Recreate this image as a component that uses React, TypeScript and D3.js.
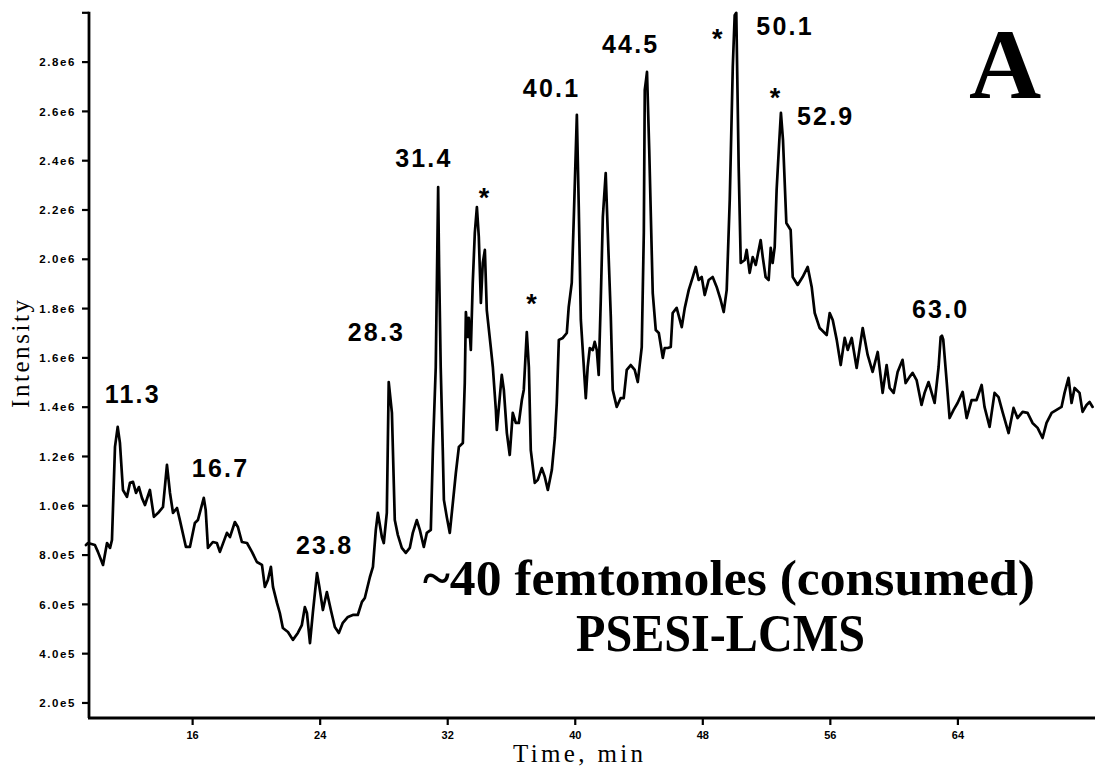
import React from "react";
import * as d3 from "d3";

// Retention time (min) of each sampled point of the total ion chromatogram
const time = [
  9.31, 9.44, 9.87, 10.06, 10.38, 10.63, 10.82, 10.94, 11.13, 11.3,
  11.44, 11.63, 11.88, 12.07, 12.26, 12.45, 12.63, 12.82, 13.01, 13.32,
  13.57, 13.89, 14.14, 14.39, 14.58, 14.77, 15.02, 15.2, 15.58, 15.83,
  16.14, 16.33, 16.7, 16.82, 16.96, 17.27, 17.52, 17.71, 18.15, 18.34,
  18.65, 18.84, 19.09, 19.41, 19.72, 20.03, 20.35, 20.53, 20.72, 20.91,
  21.04, 21.29, 21.47, 21.66, 21.98, 22.29, 22.6, 22.85, 23.04, 23.17,
  23.36, 23.54, 23.8, 23.95, 24.17, 24.42, 24.67, 24.92, 25.17, 25.42,
  25.74, 26.05, 26.36, 26.62, 26.8, 27.12, 27.31, 27.49, 27.62, 27.87,
  27.99, 28.18, 28.3, 28.5, 28.68, 28.87, 29.12, 29.37, 29.62, 29.81,
  30.06, 30.25, 30.5, 30.69, 30.94, 31.07, 31.25, 31.4, 31.46, 31.56,
  31.69, 31.76, 31.94, 32.13, 32.32, 32.51, 32.7, 32.95, 33.07, 33.14,
  33.26, 33.32, 33.45, 33.57, 33.7, 33.83, 33.95, 34.08, 34.2, 34.33,
  34.45, 34.7, 34.83, 35.02, 35.08, 35.39, 35.52, 35.71, 35.89, 36.08,
  36.27, 36.46, 36.65, 36.77, 36.96, 37.09, 37.21, 37.46, 37.65, 37.9,
  38.09, 38.28, 38.53, 38.72, 38.84, 38.97, 39.22, 39.47, 39.59, 39.78,
  39.91, 40.1, 40.22, 40.35, 40.47, 40.66, 40.78, 40.91, 41.1, 41.22,
  41.35, 41.47, 41.6, 41.73, 41.91, 42.04, 42.23, 42.35, 42.6, 42.85,
  43.04, 43.23, 43.48, 43.73, 43.92, 44.17, 44.3, 44.36, 44.44, 44.5,
  44.64, 44.86, 45.05, 45.24, 45.49, 45.61, 45.8, 45.99, 46.11, 46.36,
  46.68, 46.87, 47.12, 47.37, 47.56, 47.74, 47.93, 48.12, 48.37, 48.62,
  48.87, 49.12, 49.31, 49.5, 49.69, 49.88, 50.0, 50.1, 50.25, 50.38,
  50.63, 50.75, 50.94, 51.13, 51.32, 51.63, 51.76, 51.94, 52.13, 52.26,
  52.38, 52.51, 52.63, 52.8, 52.9, 53.03, 53.24, 53.51, 53.64, 53.95,
  54.26, 54.58, 54.83, 55.02, 55.33, 55.77, 55.96, 56.15, 56.4, 56.65,
  56.9, 57.09, 57.34, 57.65, 58.03, 58.34, 58.65, 58.97, 59.28, 59.53,
  59.72, 59.97, 60.22, 60.53, 60.72, 60.97, 61.16, 61.41, 61.72, 61.91,
  62.16, 62.54, 62.79, 62.92, 63.0, 63.08, 63.29, 63.48, 63.73, 63.98,
  64.3, 64.55, 64.86, 65.17, 65.49, 65.67, 65.99, 66.3, 66.55, 66.8,
  67.18, 67.49, 67.74, 68.06, 68.37, 68.68, 69.0, 69.31, 69.56, 69.88,
  70.19, 70.5, 70.69, 70.94, 71.13, 71.32, 71.63, 71.82, 72.07, 72.26,
  72.45,
];

// Ion intensity at each time point, in millions of counts
const intensity = [
  0.841, 0.849, 0.841, 0.813, 0.76, 0.849, 0.829, 0.861, 1.239, 1.32,
  1.255, 1.064, 1.036, 1.093, 1.097, 1.052, 1.076, 1.032, 1.003, 1.064,
  0.955, 0.975, 0.995, 1.166, 1.052, 0.971, 0.991, 0.942, 0.833, 0.833,
  0.93, 0.942, 1.032, 0.983, 0.829, 0.853, 0.849, 0.813, 0.89, 0.873,
  0.934, 0.914, 0.853, 0.849, 0.813, 0.772, 0.76, 0.671, 0.699, 0.752,
  0.671, 0.606, 0.565, 0.504, 0.488, 0.456, 0.484, 0.516, 0.589, 0.565,
  0.443, 0.565, 0.727, 0.671, 0.577, 0.65, 0.577, 0.508, 0.484, 0.525,
  0.549, 0.557, 0.557, 0.61, 0.626, 0.711, 0.752, 0.902, 0.971, 0.873,
  0.849, 0.971, 1.502, 1.377, 0.942, 0.882, 0.829, 0.809, 0.829, 0.89,
  0.942, 0.902, 0.833, 0.89, 0.902, 1.226, 1.563, 2.293, 1.969, 1.563,
  1.226, 1.024, 0.955, 0.89, 1.011, 1.133, 1.239, 1.255, 1.498, 1.786,
  1.685, 1.762, 1.632, 1.904, 2.107, 2.212, 2.091, 1.823, 1.985, 2.038,
  1.794, 1.644, 1.563, 1.389, 1.308, 1.531, 1.47, 1.295, 1.206, 1.377,
  1.336, 1.336, 1.429, 1.47, 1.705, 1.563, 1.226, 1.093, 1.105, 1.153,
  1.117, 1.064, 1.145, 1.275, 1.417, 1.673, 1.681, 1.701, 1.807, 1.904,
  2.172, 2.586, 2.212, 1.754, 1.632, 1.437, 1.563, 1.64, 1.632, 1.665,
  1.632, 1.531, 1.835, 2.172, 2.35, 2.107, 1.766, 1.47, 1.401, 1.437,
  1.437, 1.551, 1.571, 1.551, 1.502, 1.644, 2.107, 2.687, 2.728, 2.76,
  2.444, 1.863, 1.713, 1.701, 1.6, 1.64, 1.64, 1.644, 1.782, 1.803,
  1.725, 1.803, 1.876, 1.928, 1.969, 1.916, 1.928, 1.855, 1.916, 1.928,
  1.888, 1.835, 1.786, 1.876, 2.241, 2.78, 2.99, 3.0, 2.375, 1.985,
  1.997, 2.038, 1.945, 2.009, 1.977, 2.078, 2.009, 1.928, 1.916, 2.046,
  1.985, 2.05, 2.281, 2.484, 2.594, 2.484, 2.147, 2.119, 1.928, 1.896,
  1.928, 1.969, 1.888, 1.782, 1.721, 1.693, 1.782, 1.754, 1.673, 1.571,
  1.681, 1.632, 1.681, 1.559, 1.721, 1.612, 1.543, 1.624, 1.458, 1.571,
  1.478, 1.458, 1.543, 1.592, 1.498, 1.523, 1.539, 1.51, 1.409, 1.458,
  1.502, 1.417, 1.563, 1.685, 1.69, 1.675, 1.51, 1.356, 1.389, 1.417,
  1.462, 1.356, 1.429, 1.429, 1.49, 1.401, 1.32, 1.458, 1.441, 1.381,
  1.295, 1.397, 1.356, 1.381, 1.377, 1.336, 1.316, 1.275, 1.336, 1.377,
  1.389, 1.401, 1.458, 1.519, 1.417, 1.478, 1.458, 1.381, 1.409, 1.421,
  1.401,
];

// Axis ticks
const xTicks = [16, 24, 32, 40, 48, 56, 64];
const yTicks = [0.2, 0.4, 0.6, 0.8, 1.0, 1.2, 1.4, 1.6, 1.8, 2.0, 2.2, 2.4, 2.6, 2.8, 3.0];
const yTickLabels = [
  "2.0e5", "4.0e5", "6.0e5", "8.0e5", "1.0e6", "1.2e6", "1.4e6",
  "1.6e6", "1.8e6", "2.0e6", "2.2e6", "2.4e6", "2.6e6", "2.8e6", "",
];

// Labelled peak retention times and the peaks flagged with an asterisk
const labelledPeaks = [11.3, 16.7, 23.8, 28.3, 31.4, 40.1, 44.5, 50.1, 52.9, 63.0];
const starredPeaks = [33.9, 37.0, 50.1, 52.9];

// Placement of each peak label: horizontal shift from the peak, baseline
const peakLabelLayout = [
  [-13, 403], [-12, 477], [-21, 554], [-41, 341], [-43, 167],
  [-54, 97], [-45, 53], [20, 35], [16, 125], [-30, 318],
];
const starLayout = [
  [6, 207], [4, 313], [-19, 48], [-6, 107],
];

const SANS = "'Liberation Sans', Arial, Helvetica, sans-serif";
const SERIF = "'Liberation Serif', 'Times New Roman', Times, serif";

export default function App() {
  const left = 89;
  const right = 1095;
  const bottom = 718;
  const top = 12.8;

  const x = d3.scaleLinear().domain([9.5, 72.6]).range([left, right]);
  const y = d3.scaleLinear().domain([0.139, 3.0]).range([bottom, top]);

  const points: [number, number][] = time.map((t, i) => [t, intensity[i]]);
  const tracePath = d3
    .line<[number, number]>()
    .x((d) => x(d[0]))
    .y((d) => y(d[1]))(points) as string;

  return (
    <svg
      width={1098}
      height={770}
      viewBox="0 0 1098 770"
      style={{ position: "absolute", left: 0, top: 0, background: "#fff" }}
    >
      <rect x={0} y={0} width={1098} height={770} fill="#fff" />

      {/* chromatogram trace */}
      <path
        d={tracePath}
        fill="none"
        stroke="#000"
        strokeWidth={2.7}
        strokeLinejoin="round"
        strokeLinecap="round"
      />

      {/* axes */}
      <line x1={left} y1={top - 1} x2={left} y2={bottom} stroke="#000" strokeWidth={2.8} />
      <line x1={left - 1} y1={bottom} x2={right} y2={bottom} stroke="#000" strokeWidth={2.8} />

      {yTicks.map((v, i) => (
        <g key={"y" + v}>
          <line x1={left - 7} x2={left} y1={y(v)} y2={y(v)} stroke="#000" strokeWidth={2.2} />
          {yTickLabels[i] && (
            <text
              x={76}
              y={y(v) + 4.2}
              textAnchor="end"
              fontFamily={SANS}
              fontWeight="bold"
              fontSize={11.5}
              letterSpacing={1.6}
              fill="#000"
            >
              {yTickLabels[i]}
            </text>
          )}
        </g>
      ))}

      {xTicks.map((t) => (
        <g key={"x" + t}>
          <line x1={x(t)} x2={x(t)} y1={bottom} y2={bottom + 7} stroke="#000" strokeWidth={2.2} />
          <text
            x={x(t)}
            y={739}
            textAnchor="middle"
            fontFamily={SANS}
            fontWeight="bold"
            fontSize={11}
            fill="#000"
          >
            {t}
          </text>
        </g>
      ))}

      {/* axis titles */}
      <text
        x={513}
        y={762}
        fontFamily={SERIF}
        fontSize={25}
        textLength={130}
        lengthAdjust="spacing"
        fill="#000"
      >
        Time, min
      </text>
      <text
        transform="translate(29,354) rotate(-90)"
        textAnchor="middle"
        fontFamily={SERIF}
        fontSize={25}
        textLength={108}
        lengthAdjust="spacing"
        fill="#000"
      >
        Intensity
      </text>

      {/* peak retention-time labels */}
      {labelledPeaks.map((t, i) => (
        <text
          key={"p" + t}
          x={x(t) + peakLabelLayout[i][0]}
          y={peakLabelLayout[i][1]}
          fontFamily={SANS}
          fontWeight="bold"
          fontSize={25}
          letterSpacing={2.2}
          fill="#000"
        >
          {t.toFixed(1)}
        </text>
      ))}
      {starredPeaks.map((t, i) => (
        <text
          key={"s" + t}
          x={x(t) + starLayout[i][0]}
          y={starLayout[i][1]}
          textAnchor="middle"
          fontFamily={SANS}
          fontWeight="bold"
          fontSize={27}
          fill="#000"
        >
          *
        </text>
      ))}

      {/* panel letter and sample annotation */}
      <text
        x={1005}
        y={98}
        textAnchor="middle"
        fontFamily={SERIF}
        fontWeight="bold"
        fontSize={100}
        fill="#000"
      >
        A
      </text>
      <text
        x={423}
        y={595}
        fontFamily={SERIF}
        fontWeight="bold"
        fontSize={51}
        textLength={612}
        lengthAdjust="spacingAndGlyphs"
        fill="#000"
      >
        ~40 femtomoles (consumed)
      </text>
      <text
        x={576}
        y={651}
        fontFamily={SERIF}
        fontWeight="bold"
        fontSize={52}
        textLength={289}
        lengthAdjust="spacingAndGlyphs"
        fill="#000"
      >
        PSESI-LCMS
      </text>
    </svg>
  );
}
